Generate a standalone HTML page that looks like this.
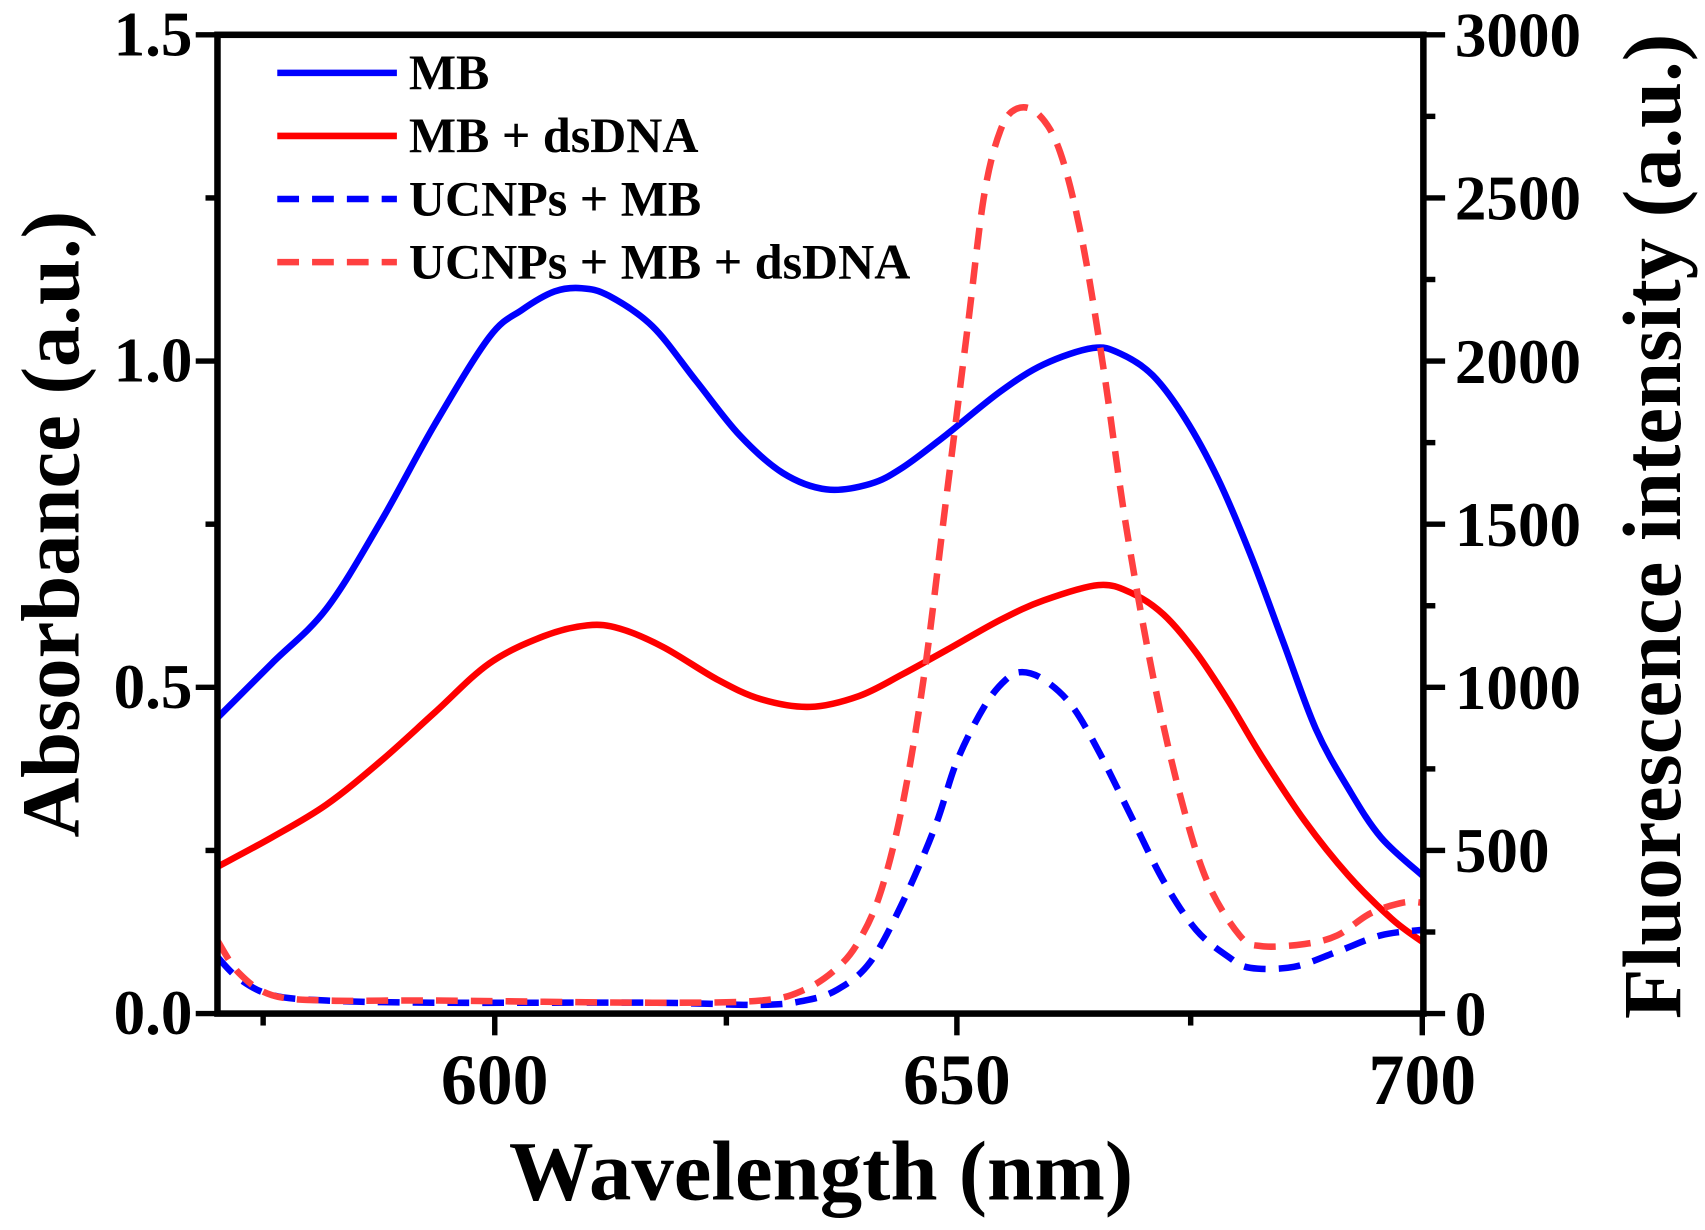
<!DOCTYPE html>
<html><head><meta charset="utf-8"><style>html,body{margin:0;padding:0;background:#fff}svg{display:block}</style></head>
<body>
<svg id="s" width="1705" height="1230" viewBox="0 0 1568 1131" preserveAspectRatio="none" xmlns="http://www.w3.org/2000/svg" font-family="Liberation Serif, serif" font-weight="bold">
<rect width="1568" height="1131" fill="#fff"/>
<g fill="none" stroke-linejoin="round" stroke-linecap="butt">
<polyline class="c" stroke="#0000FF" stroke-width="6" points="200,660 250,610 300,560 350,480 400,390 450,310 480,285 510,268 535,265 560,272 600,300 640,350 680,400 720,435 760,450 800,445 830,430 870,400 920,360 960,335 1005,320 1030,325 1060,345 1090,385 1120,440 1150,510 1180,590 1210,670 1240,725 1270,770 1308,805"/>
<polyline class="c" stroke="#FF0000" stroke-width="6" points="200,797 250,770 300,740 350,700 400,655 450,610 500,585 540,575 570,578 610,595 660,625 700,643 745,650 790,640 830,620 870,598 920,570 960,552 1010,538 1040,545 1070,565 1100,600 1130,645 1160,695 1200,755 1240,805 1280,845 1308,866"/>
<polyline class="c" stroke="#0000FF" stroke-width="6" stroke-dasharray="20,12" points="200,880 220,900 250,915 300,920 400,922 600,922 700,924 740,920 770,910 800,885 830,830 860,760 880,700 905,650 925,625 940,618 960,625 985,648 1010,690 1040,750 1070,810 1100,855 1130,880 1150,890 1190,889 1230,875 1270,860 1308,855"/>
<polyline class="c" stroke="#FF4040" stroke-width="6" stroke-dasharray="20,12" points="200,865 220,895 250,915 300,920 400,920 600,922 700,920 740,910 770,890 790,865 810,820 830,740 850,620 870,460 890,300 905,180 920,120 935,100 955,105 975,140 995,220 1015,340 1035,480 1060,620 1085,730 1110,810 1140,860 1160,870 1200,868 1230,860 1260,840 1290,830 1308,830"/>
</g>
<rect x="200" y="32" width="1109" height="900" fill="none" stroke="#000" stroke-width="6"/>
<g stroke="#000" stroke-width="5">
<line x1="180" y1="32" x2="200" y2="32"/><line x1="180" y1="332" x2="200" y2="332"/><line x1="180" y1="632" x2="200" y2="632"/><line x1="180" y1="932" x2="200" y2="932"/>
<line x1="189" y1="182" x2="200" y2="182"/><line x1="189" y1="482" x2="200" y2="482"/><line x1="189" y1="782" x2="200" y2="782"/>
<line x1="1309" y1="32" x2="1329" y2="32"/><line x1="1309" y1="182" x2="1329" y2="182"/><line x1="1309" y1="332" x2="1329" y2="332"/><line x1="1309" y1="482" x2="1329" y2="482"/><line x1="1309" y1="632" x2="1329" y2="632"/><line x1="1309" y1="782" x2="1329" y2="782"/><line x1="1309" y1="932" x2="1329" y2="932"/>
<line x1="1309" y1="107" x2="1320" y2="107"/><line x1="1309" y1="257" x2="1320" y2="257"/><line x1="1309" y1="407" x2="1320" y2="407"/><line x1="1309" y1="557" x2="1320" y2="557"/><line x1="1309" y1="707" x2="1320" y2="707"/><line x1="1309" y1="857" x2="1320" y2="857"/>
<line x1="455" y1="932" x2="455" y2="952"/><line x1="880" y1="932" x2="880" y2="952"/><line x1="1308" y1="932" x2="1308" y2="952"/>
<line x1="242" y1="932" x2="242" y2="943"/><line x1="668" y1="932" x2="668" y2="943"/><line x1="1095" y1="932" x2="1095" y2="943"/>
</g>
<g font-size="58" text-anchor="end">
<text x="177" y="51">1.5</text><text x="177" y="351">1.0</text><text x="177" y="651">0.5</text><text x="177" y="951">0.0</text>
</g>
<g font-size="58" text-anchor="start">
<text x="1338" y="52">3000</text><text x="1338" y="202">2500</text><text x="1338" y="352">2000</text><text x="1338" y="502">1500</text><text x="1338" y="652">1000</text><text x="1338" y="802">500</text><text x="1338" y="952">0</text>
</g>
<g font-size="66" text-anchor="middle">
<text x="455" y="1015">600</text><text x="880" y="1015">650</text><text x="1308" y="1015">700</text>
</g>
<text x="755" y="1103" font-size="78" text-anchor="middle">Wavelength (nm)</text>
<text transform="translate(72,482) rotate(-90)" font-size="76" text-anchor="middle">Absorbance (a.u.)</text>
<text transform="translate(1545,484) rotate(-90)" font-size="76" text-anchor="middle">Fluorescence intensity (a.u.)</text>
<g stroke-width="6">
<line x1="255" y1="67" x2="365" y2="67" stroke="#0000FF"/>
<line x1="255" y1="125" x2="365" y2="125" stroke="#FF0000"/>
<line x1="255" y1="183" x2="365" y2="183" stroke="#0000FF" stroke-dasharray="20,12"/>
<line x1="255" y1="241" x2="365" y2="241" stroke="#FF4040" stroke-dasharray="20,12"/>
</g>
<g font-size="46">
<text x="376" y="82">MB</text><text x="376" y="140">MB + dsDNA</text><text x="376" y="198">UCNPs + MB</text><text x="376" y="256">UCNPs + MB + dsDNA</text>
</g>
</svg>
<script>
document.querySelectorAll('polyline.c').forEach(function(pl){
 var p=pl.getAttribute('points').trim().split(/\s+/).map(function(s){return s.split(',').map(Number);});
 var d='M'+p[0][0]+','+p[0][1];
 for(var i=0;i<p.length-1;i++){
  var p0=p[i-1]||p[i],p1=p[i],p2=p[i+1],p3=p[i+2]||p2;
  var c1x=p1[0]+(p2[0]-p0[0])/6,c1y=p1[1]+(p2[1]-p0[1])/6,c2x=p2[0]-(p3[0]-p1[0])/6,c2y=p2[1]-(p3[1]-p1[1])/6;
  d+=' C'+c1x+','+c1y+' '+c2x+','+c2y+' '+p2[0]+','+p2[1];
 }
 var path=document.createElementNS('http://www.w3.org/2000/svg','path');
 ['stroke','stroke-width','stroke-dasharray'].forEach(function(a){if(pl.getAttribute(a))path.setAttribute(a,pl.getAttribute(a));});
 path.setAttribute('d',d);path.setAttribute('fill','none');
 pl.parentNode.replaceChild(path,pl);
});
</script>
</body></html>
